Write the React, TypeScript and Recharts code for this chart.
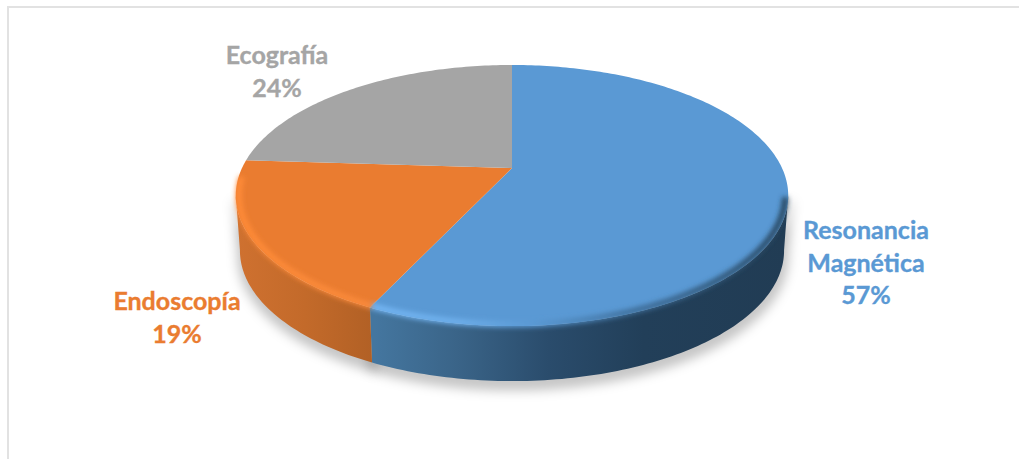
import { PieChart, Pie, Cell } from "recharts";

const categories = ["Resonancia Magnética", "Endoscopía", "Ecografía"];
const shares = [57, 19, 24];
const colors = ["#5a99d4", "#ea7c30", "#a5a5a5"];

const table = categories.map((name, i) => ({ name, value: shares[i] }));

// disc projection: far side is squeezed, so the apex sits above the ellipse centre
const PERSPECTIVE = 0.211;
const TILT = 0.462;
const DEPTH = 55;
const BOTTOM_SCALE = 0.985;
const RAD = Math.PI / 180;

// where each wrapped label is centred, first line baseline
const labelSpots: Record<string, { x: number; y: number; lines: string[] }> = {
  "Resonancia Magnética": { x: 866, y: 239, lines: ["Resonancia", "Magnética"] },
  Endoscopía: { x: 177, y: 310, lines: ["Endoscopía"] },
  Ecografía: { x: 277, y: 64, lines: ["Ecografía"] },
};

function project(cx: number, cy: number, r: number, deg: number) {
  const u = Math.cos(deg * RAD);
  const v = Math.sin(deg * RAD);
  const w = 1 + PERSPECTIVE * v;
  return { x: cx + (r * u) / w, y: cy - (r * TILT * v) / w };
}

function rim(cx: number, cy: number, r: number, from: number, to: number) {
  const pts = [];
  const steps = Math.max(2, Math.ceil(Math.abs(to - from)));
  for (let i = 0; i <= steps; i++) {
    pts.push(project(cx, cy, r, from + ((to - from) * i) / steps));
  }
  return pts;
}

const toPath = (pts: { x: number; y: number }[]) =>
  pts.map((p, i) => `${i ? "L" : "M"}${p.x.toFixed(2)} ${p.y.toFixed(2)}`).join(" ");

// front wall only exists between the two silhouette tangents
const FRONT_FROM = -168;
const FRONT_TO = -12;

function frontRange(startAngle: number, endAngle: number) {
  const hi = Math.min(startAngle, FRONT_TO);
  const lo = Math.max(endAngle, FRONT_FROM);
  return hi > lo ? [hi, lo] : null;
}

function lowerEdge(cx: number, cy: number, r: number, from: number, to: number) {
  return rim(cx, cy, r, from, to).map((p) => ({
    x: cx + (p.x - cx) * BOTTOM_SCALE,
    y: p.y + DEPTH,
  }));
}

function DropShadow({ cx, cy, outerRadius, startAngle, endAngle }: any) {
  const range = frontRange(startAngle, endAngle);
  if (!range) return null;
  const upper = rim(cx, cy, outerRadius, range[0], range[1]);
  const lower = lowerEdge(cx, cy, outerRadius, range[1], range[0]);
  return (
    <path
      d={toPath([...upper, ...lower]) + " Z"}
      transform="translate(1 6)"
      fill="#000"
      fillOpacity={0.2}
      stroke="#000"
      strokeOpacity={0.2}
      strokeWidth={6}
      filter="url(#soft-shadow)"
    />
  );
}

function WallSlice({ cx, cy, outerRadius, startAngle, endAngle, index }: any) {
  const range = frontRange(startAngle, endAngle);
  if (!range) return null;
  const upper = rim(cx, cy, outerRadius, range[0], range[1]);
  const lower = lowerEdge(cx, cy, outerRadius, range[1], range[0]);
  return <path d={toPath([...upper, ...lower]) + " Z"} fill={`url(#wall-${index})`} />;
}

function FaceSlice({ cx, cy, outerRadius, startAngle, endAngle, fill }: any) {
  const edge = rim(cx, cy, outerRadius, startAngle, endAngle);
  return <path d={toPath([{ x: cx, y: cy }, ...edge]) + " Z"} fill={fill} />;
}

function BevelSlice({ cx, cy, outerRadius, startAngle, endAngle, index }: any) {
  const hi = Math.min(startAngle, -13);
  const lo = Math.max(endAngle, -176);
  if (hi <= lo) return null;
  return (
    <path
      d={toPath(rim(cx, cy, outerRadius - 3, hi, lo))}
      fill="none"
      stroke={`url(#bevel-${index})`}
      strokeWidth={6}
      filter="url(#soft-bevel)"
    />
  );
}

function SliceLabel({ name, value, fill }: any) {
  const spot = labelSpots[name];
  return (
    <text
      textAnchor="middle"
      fontFamily="Lato, sans-serif"
      fontWeight={700}
      fontSize={25}
      fill={fill}
      stroke={fill}
      strokeWidth={0.35}
    >
      {[...spot.lines, `${value}%`].map((line, i) => (
        <tspan key={line} x={spot.x} y={spot.y + i * 32.5}>
          {line}
        </tspan>
      ))}
    </text>
  );
}

const pieProps = {
  data: table,
  dataKey: "value",
  nameKey: "name",
  cx: 512,
  cy: 168,
  outerRadius: 270,
  startAngle: 90,
  endAngle: -270,
  stroke: "none",
  paddingAngle: 0,
  isAnimationActive: false,
  labelLine: false,
  rootTabIndex: -1,
};

export default function App() {
  return (
    <div style={{ position: "absolute", left: 0, top: 0, width: 1019, height: 459, background: "#fff", overflow: "hidden" }}>
      <div style={{ position: "absolute", left: 7, top: 6, right: 0, bottom: 0, borderTop: "2px solid #e2e2e2", borderLeft: "2px solid #e2e2e2" }} />
      <div style={{ position: "absolute", left: 0, top: 0 }}>
        <PieChart width={1019} height={459} margin={{ top: 0, right: 0, bottom: 0, left: 0 }}>
          <defs>
            <filter id="soft-shadow" filterUnits="userSpaceOnUse" x="190" y="150" width="650" height="280">
              <feGaussianBlur stdDeviation="6" />
            </filter>
            <filter id="soft-bevel" filterUnits="userSpaceOnUse" x="200" y="40" width="620" height="340">
              <feGaussianBlur stdDeviation="2.4" />
            </filter>
            <linearGradient id="wall-0" gradientUnits="userSpaceOnUse" x1="375" y1="0" x2="788" y2="0">
              <stop offset="0" stopColor="#44769f" />
              <stop offset="0.2" stopColor="#3a6488" />
              <stop offset="0.42" stopColor="#2a4c6c" />
              <stop offset="0.65" stopColor="#223f59" />
              <stop offset="1" stopColor="#213c54" />
            </linearGradient>
            <linearGradient id="wall-1" gradientUnits="userSpaceOnUse" x1="236" y1="0" x2="375" y2="0">
              <stop offset="0" stopColor="#cf7130" />
              <stop offset="0.5" stopColor="#c36a2a" />
              <stop offset="1" stopColor="#b16025" />
            </linearGradient>
            <linearGradient id="wall-2" gradientUnits="userSpaceOnUse" x1="236" y1="0" x2="250" y2="0">
              <stop offset="0" stopColor="#7c7c7c" />
              <stop offset="1" stopColor="#7c7c7c" />
            </linearGradient>
            <linearGradient id="bevel-0" gradientUnits="userSpaceOnUse" x1="375" y1="0" x2="788" y2="0">
              <stop offset="0" stopColor="#74b6f4" />
              <stop offset="0.2" stopColor="#6fb0ec" />
              <stop offset="0.38" stopColor="#5a99d4" />
              <stop offset="0.62" stopColor="#3f6f9b" />
              <stop offset="1" stopColor="#27465f" />
            </linearGradient>
            <linearGradient id="bevel-1" gradientUnits="userSpaceOnUse" x1="236" y1="0" x2="375" y2="0">
              <stop offset="0" stopColor="#ff8b38" />
              <stop offset="1" stopColor="#f98a3c" />
            </linearGradient>
            <linearGradient id="bevel-2" gradientUnits="userSpaceOnUse" x1="236" y1="0" x2="250" y2="0">
              <stop offset="0" stopColor="#a5a5a5" />
              <stop offset="1" stopColor="#a5a5a5" />
            </linearGradient>
          </defs>

          <Pie {...pieProps} shape={DropShadow} />
          <Pie {...pieProps} shape={WallSlice} />
          <Pie {...pieProps} shape={FaceSlice} label={SliceLabel}>
            {categories.map((name, i) => (
              <Cell key={name} fill={colors[i]} />
            ))}
          </Pie>
          <Pie {...pieProps} shape={BevelSlice} />
        </PieChart>
      </div>
    </div>
  );
}
